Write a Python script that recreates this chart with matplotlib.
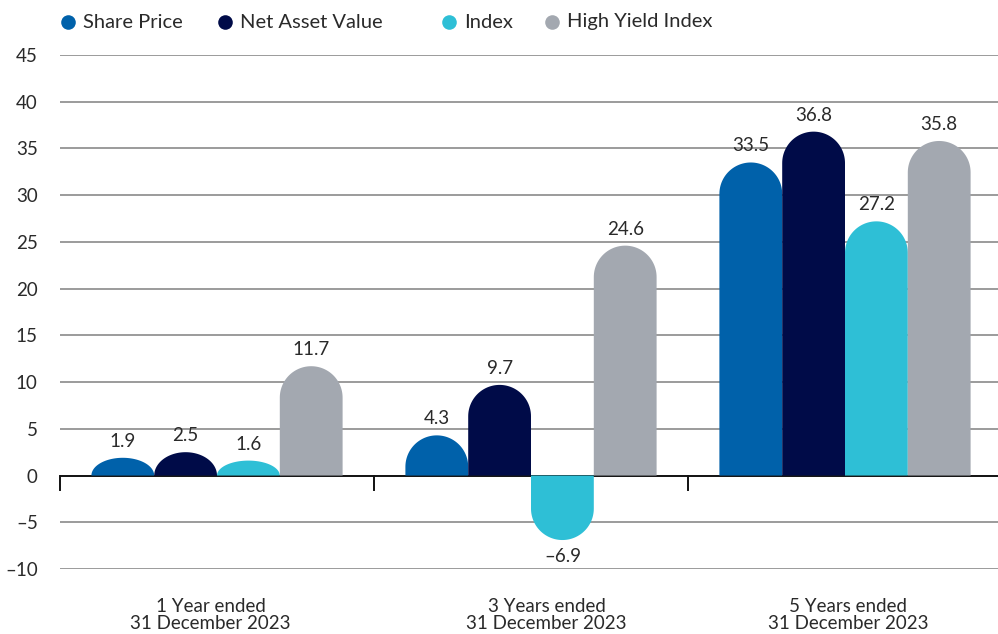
import numpy as np
import matplotlib
matplotlib.use('Agg')
import matplotlib.pyplot as plt
from matplotlib.patches import Polygon
from matplotlib.lines import Line2D


######## ######## ######## ########
# DATA

periods = ['1 Year ended\n31 December 2023',
           '3 Years ended\n31 December 2023',
           '5 Years ended\n31 December 2023']
seriesNames = ['Share Price', 'Net Asset Value', 'Index', 'High Yield Index']
sharePrice = [1.9, 4.3, 33.5]
netAssetValue = [2.5, 9.7, 36.8]
indexVals = [1.6, -6.9, 27.2]
highYield = [11.7, 24.6, 35.8]
yTicks = [-10, -5, 0, 5, 10, 15, 20, 25, 30, 35, 40, 45]

colours = ['#0061aa', '#000b48', '#2ebfd6', '#a3a8b0']
plt.rcParams['font.family'] = ['Lato', 'DejaVu Sans']
txtCol = '#2a2a2a'


######## ######## ######## ########
# ANCILLARY FUNCTION(S)

def roundedBar(ax, x0, w, h, ry, colour) :
	# bar with a half-round end; short bars get a flat dome
	r = w / 2.0
	cx = x0 + r
	sgn = 1 if h >= 0 else -1
	a = abs(h)
	if a > ry :
		straight = a - ry
		capH = ry
	else :
		straight = 0.0
		capH = a
	theta = np.linspace(0, np.pi, 60)
	capX = cx + r * np.cos(theta)
	capY = sgn * (straight + capH * np.sin(theta))
	pts = [(x0, 0), (x0 + w, 0), (x0 + w, sgn * straight)]
	pts += list(zip(capX, capY))
	pts += [(x0, sgn * straight)]
	ax.add_patch(Polygon(pts, closed=True, facecolor=colour,
						 edgecolor='none', linewidth=0, zorder=3))
#end def


######## ######## ######## ########
# PLOT

figW, figH = 998, 634
fig = plt.figure(figsize=(figW / 100.0, figH / 100.0), dpi=100)
axL, axR = 60.0, 1002.0
axT, axB = 55.0, 569.0
ax = fig.add_axes([axL / figW, 1 - axB / figH, (axR - axL) / figW, (axB - axT) / figH])

yMin, yMax = -10, 45
ax.set_xlim(-0.5, 2.5)
ax.set_ylim(yMin, yMax)

# data units per pixel (vertical) to keep the caps round
pxH = axB - axT
pxW = axR - axL
barW = 0.2
rPx = barW / 3.0 * pxW / 2.0
ry = rPx * (yMax - yMin) / pxH
lblOff = (yMax - yMin) / pxH * 8

allSeries = [sharePrice, netAssetValue, indexVals, highYield]
for si, vals in enumerate(allSeries) :
	for ci, v in enumerate(vals) :
		x0 = ci - 2 * barW + si * barW
		roundedBar(ax, x0, barW, v, ry, colours[si])
		if v >= 0 :
			ax.text(x0 + barW / 2, v + lblOff, '{:.1f}'.format(v), ha='center', va='bottom',
					fontsize=13.5, color=txtCol, zorder=4)
		else :
			ax.text(x0 + barW / 2, v - lblOff, '{:.1f}'.format(v).replace('-', '\u2013'),
					ha='center', va='top', fontsize=13.5, color=txtCol, zorder=4)
	#end for
#end for

# grid lines
for t in yTicks :
	if t == 0 :
		ax.axhline(0, color='#111111', linewidth=1.4, zorder=2)
	else :
		ax.axhline(t, color='#8a8a8a', linewidth=1.2, zorder=1)
#end for

# category separators under the zero line
for xs in [-0.5, 0.5, 1.5] :
	ax.plot([xs, xs], [0, -1.6], color='#111111', linewidth=1.4, zorder=2, clip_on=False)

for s in ax.spines.values() :
	s.set_visible(False)

ax.set_yticks(yTicks)
ax.set_yticklabels([str(t).replace('-', '\u2013') for t in yTicks])
ax.tick_params(axis='y', length=0, pad=16, labelsize=13.5, labelcolor=txtCol)

# category labels
lblPos = [-0.02, 1.05, 2.01]
ax.set_xticks(lblPos)
ax.set_xticklabels(periods, fontsize=13.5, color=txtCol, linespacing=1.0)
ax.tick_params(axis='x', length=0, pad=21)

# legend drawn by hand along the top
legX = [68, 225, 449, 552]
legY = 22
for i, name in enumerate(seriesNames) :
	fig.add_artist(Line2D([legX[i] / figW], [1 - legY / figH], marker='o', markersize=10.5,
						  markerfacecolor=colours[i], markeredgecolor='none',
						  linestyle='none', transform=fig.transFigure))
	fig.text((legX[i] + 15) / figW, 1 - legY / figH, name, ha='left', va='center',
			 fontsize=14.5, color=txtCol)
#end for

fig.savefig('out.png', dpi=100)
